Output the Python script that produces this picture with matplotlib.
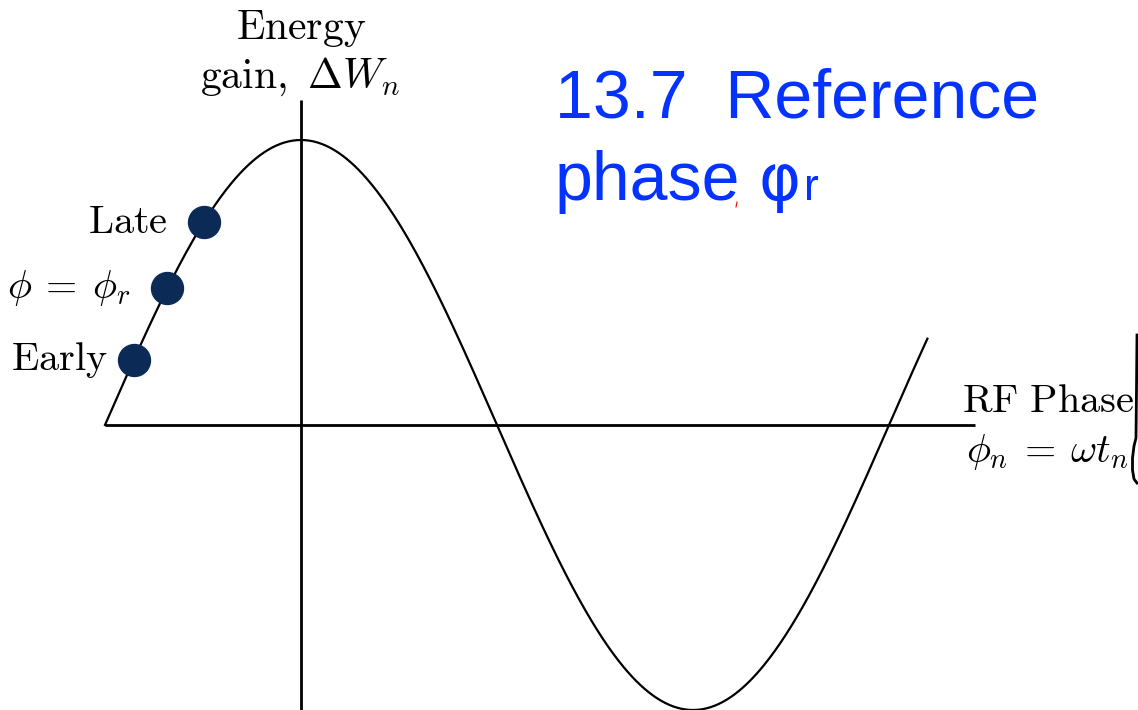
import numpy as np
import matplotlib
matplotlib.use("Agg")
import matplotlib.pyplot as plt

plt.rcParams['mathtext.fontset'] = 'cm'

# energy gain curve: dW = cos(phi), drawn from -pi/2 up to ~1.6 pi
phase_start = -np.pi / 2
phase_end = 5.02
# particles on the rising slope (phase, label)
dot_phases = [-0.78, -1.07, -1.34]
dot_labels = [r'$\mathrm{Late}$', r'$\phi\:=\:\phi_r$', r'$\mathrm{Early}$']
label_gap = [26, 27, 19]
axis_x_end = 5.40
axis_y_top = 1.14

W, H = 1138, 710
fig = plt.figure(figsize=(W / 100, H / 100), dpi=100)
ax = fig.add_axes([0, 0, 1, 1])
# phase -> pixel: 124.78 px per radian, zero at x=301; gain: 285 px per unit, zero at y=425
ax.set_xlim(-301 / 124.78, (W - 301) / 124.78)
ax.set_ylim(-(H - 425) / 285, 425 / 285)
ax.axis('off')

def fig_xy(px, py):
    return px / W, 1 - py / H

# axes
ax.plot([phase_start, axis_x_end], [0, 0], color='black', lw=2, solid_capstyle='butt')
ax.plot([0, 0], [-1.1, axis_y_top], color='black', lw=2, solid_capstyle='butt')

phi = np.linspace(phase_start, phase_end, 600)
ax.plot(phi, np.cos(phi), color='black', lw=1.6)

dot_color = '#0b2a55'
for p, lab, gap in zip(dot_phases, dot_labels, label_gap):
    ax.plot(p, np.cos(p), 'o', ms=23, color=dot_color, zorder=5)
    ax.annotate(lab, (p, np.cos(p)), xytext=(-gap, 0), textcoords='offset points',
                ha='right', va='center', fontsize=29)

# axis titles
fig.text(*fig_xy(301, 39), r'$\mathrm{Energy}$', ha='center', va='baseline', fontsize=30)
fig.text(*fig_xy(300, 88), r'$\mathrm{gain,}\ \Delta W_n$', ha='center', va='baseline', fontsize=30)
fig.text(*fig_xy(962, 412), r'$\mathrm{RF\ Phase}$', ha='left', va='baseline', fontsize=29)
fig.text(*fig_xy(966, 462), r'$\phi_n\:=\:\omega t_n$', ha='left', va='baseline', fontsize=29)

# heading
blue = '#0433ff'
fig.text(*fig_xy(555, 118), '13.7  Reference', ha='left', va='baseline',
         fontsize=49, color=blue, family='Liberation Sans')
fig.text(*fig_xy(555, 200), 'phase', ha='left', va='baseline',
         fontsize=49, color=blue, family='Liberation Sans')
fig.text(*fig_xy(758, 200), 'φ', ha='left', va='baseline',
         fontsize=46, color=blue, family='DejaVu Sans')
fig.text(*fig_xy(804, 200), 'r', ha='left', va='baseline',
         fontsize=32, color=blue, family='Liberation Sans')
fig.add_artist(plt.Line2D([737 / W, 736 / W], [1 - 202 / H, 1 - 207 / H],
                          color='red', lw=0.8))

# pen stroke at the right edge
bx = np.array([1137, 1136.5, 1136, 1134, 1132.5, 1132.5, 1134, 1137])
by = np.array([335, 390, 438, 446, 458, 470, 479, 483])
fig.add_artist(plt.Line2D(bx / W, 1 - by / H, color='black', lw=2))

fig.savefig('out.png', dpi=100)
